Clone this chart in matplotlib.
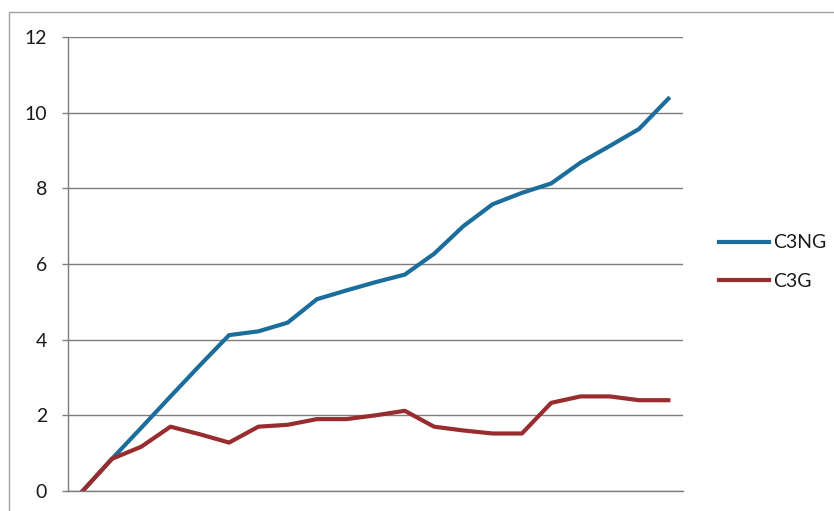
import numpy as np
import matplotlib
matplotlib.use("Agg")
import matplotlib.pyplot as plt
from matplotlib.patches import Rectangle

plt.rcParams['font.family'] = ['Lato', 'DejaVu Sans']

# 21 samples per series
samples = np.arange(1, 22)
c3ng = [0, 0.85, 1.67, 2.5, 3.32, 4.12, 4.22, 4.45, 5.07, 5.3, 5.52,
        5.72, 6.27, 7.0, 7.58, 7.88, 8.13, 8.68, 9.12, 9.57, 10.37]
c3g = [0, 0.85, 1.17, 1.7, 1.5, 1.28, 1.7, 1.75, 1.9, 1.9, 2.0,
       2.12, 1.7, 1.6, 1.52, 1.52, 2.33, 2.5, 2.5, 2.4, 2.4]
yticks = [0, 2, 4, 6, 8, 10, 12]

W, H = 834, 511
fig = plt.figure(figsize=(W / 100, H / 100), dpi=100)
ax = fig.add_axes([68 / W, 1 - 491 / H, (683 - 68) / W, (491 - 37) / H])

grid_c = '#7d7d7d'
ax.plot(samples, c3ng, color='#1b6e9b', lw=3, label='C3NG', solid_joinstyle='round')
ax.plot(samples, c3g, color='#982c2f', lw=3, label='C3G', solid_joinstyle='round')

ax.set_xlim(0.5, 21.5)
ax.set_ylim(0, 12)
ax.set_yticks(yticks)
ax.set_xticks([])
ax.yaxis.grid(True, color=grid_c, lw=1)
ax.set_axisbelow(True)
for side in ('top', 'right'):
    ax.spines[side].set_visible(False)
for side in ('left', 'bottom'):
    ax.spines[side].set_color(grid_c)
    ax.spines[side].set_linewidth(1)
ax.tick_params(axis='y', length=4, width=1, color=grid_c, pad=11,
               labelsize=14, labelcolor='#1a1a1a')

fig.legend(loc='center left', bbox_to_anchor=(701 / W, 1 - 262 / H),
           frameon=False, fontsize=14, handlelength=2.6, handletextpad=0.2,
           labelspacing=1.1, labelcolor='#1a1a1a')

# chart frame
fig.patches.append(Rectangle((9 / W, -0.01), 1.0, 1 - 12 / H + 0.01,
                             transform=fig.transFigure, fill=False,
                             edgecolor='#a0a0a0', lw=1))

fig.savefig('out.png', dpi=100)
